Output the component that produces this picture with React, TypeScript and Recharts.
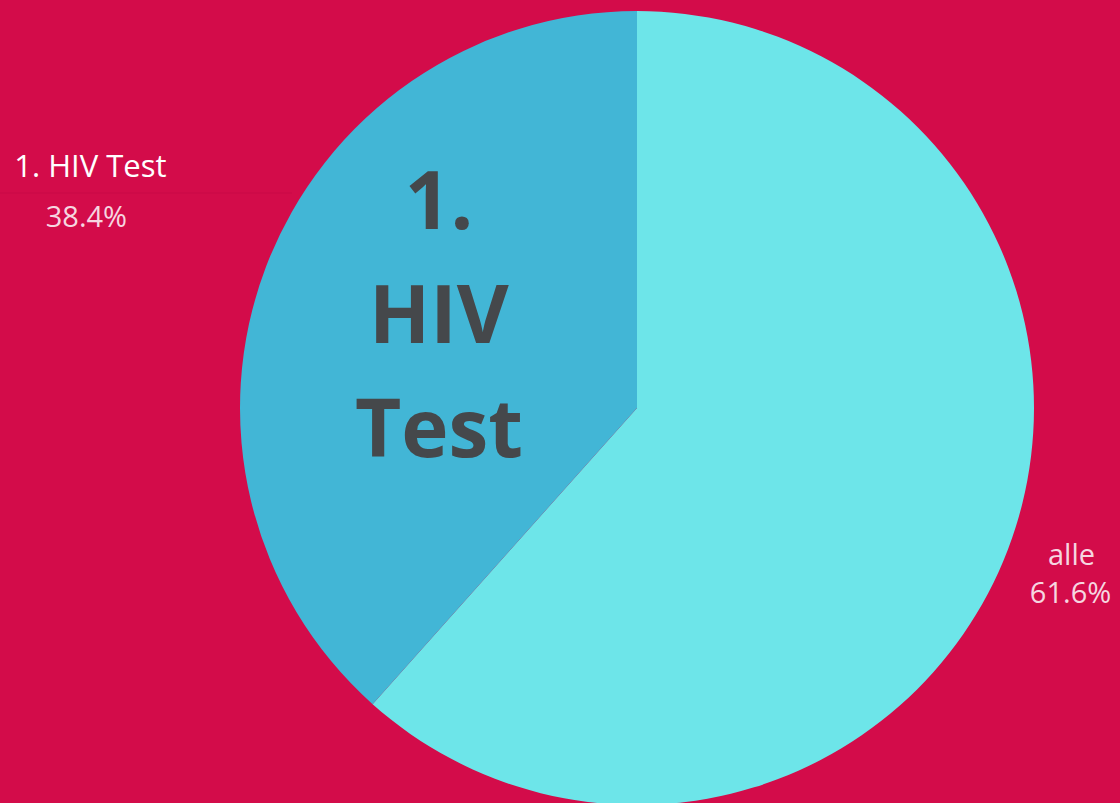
import React from 'react';
import { PieChart, Pie, Cell } from 'recharts';

const categories = ['alle', '1. HIV Test'];
const shares = [61.6, 38.4];
const sliceColors = ['#6DE5E9', '#42B6D6'];
const insideLines = [[], ['1.', 'HIV', 'Test']];

const data = categories.map((name, i) => ({ name, value: shares[i] }));

const RAD = Math.PI / 180;
const W = 1120;
const H = 803;
const CX = 637;
const CY = 408;
const R = 397;

function renderLabel(props: any) {
  const { cx, cy, midAngle, index, name, value } = props;
  const cos = Math.cos(-midAngle * RAD);
  const sin = Math.sin(-midAngle * RAD);
  const outR = index === 0 ? 464 : 585;
  const x = cx + outR * cos;
  const y = cy + outR * sin;
  const inR = 212;
  const ix = cx + inR * cos;
  const iy = cy + inR * sin;
  const lines = insideLines[index];
  return (
    <g>
      {index === 1 && (
        <line x1={0} y1={193} x2={292} y2={193} stroke="#B80A40" strokeOpacity={0.35} strokeWidth={1} />
      )}
      <text x={index === 0 ? x + 1 : x} y={index === 0 ? y - 8 : y - 22} textAnchor="middle" fill={index === 0 ? '#F6D6E0' : '#FFFFFF'}
        fontFamily="'Open Sans', sans-serif" fontSize={index === 0 ? 29 : 31}>
        {name}
      </text>
      <text x={index === 0 ? x : x - 4} y={index === 0 ? y + 30 : y + 28} textAnchor="middle" fill="#F6D6E0"
        fontFamily="'Open Sans', sans-serif" fontSize={29}>
        {value.toFixed(1)}%
      </text>
      {lines.map((t: string, k: number) => (
        <text key={k} x={ix} y={iy - 103 + k * 114} textAnchor="middle" fill="#45484B"
          fontFamily="'Open Sans', sans-serif" fontWeight={700} fontSize={80}>
          {t}
        </text>
      ))}
    </g>
  );
}

export default function App() {
  return (
    <div style={{ position: 'fixed', left: 0, top: 0, width: W, height: H, background: '#D30C4A', overflow: 'hidden' }}>
      <PieChart width={W} height={H} margin={{ top: 0, right: 0, bottom: 0, left: 0 }}>
        <Pie
          data={data}
          dataKey="value"
          nameKey="name"
          cx={CX}
          cy={CY}
          outerRadius={R}
          startAngle={90}
          endAngle={-270}
          stroke="none"
          label={renderLabel}
          labelLine={false}
          isAnimationActive={false}
        >
          {data.map((d, i) => (
            <Cell key={d.name} fill={sliceColors[i]} />
          ))}
        </Pie>
      </PieChart>
    </div>
  );
}
